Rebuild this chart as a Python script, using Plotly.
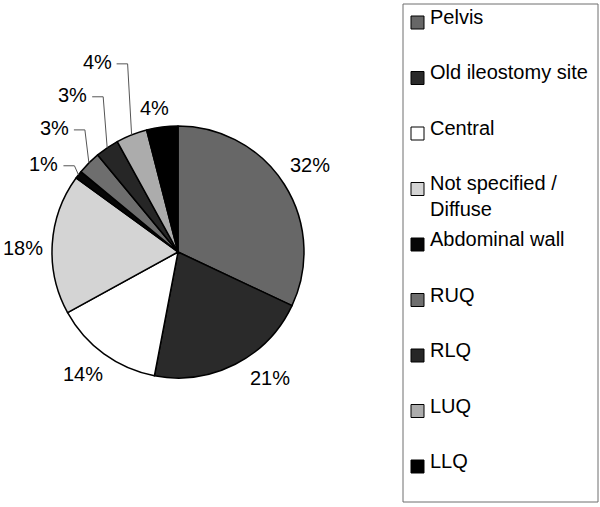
import math
import plotly.graph_objects as go

# ---------------- data ----------------
categories = ["Pelvis", "Old ileostomy site", "Central", "Not specified / Diffuse",
              "Abdominal wall", "RUQ", "RLQ", "LUQ", "LLQ"]
legend_labels = ["Pelvis", "Old ileostomy site", "Central", "Not specified /<br>Diffuse",
                 "Abdominal wall", "RUQ", "RLQ", "LUQ", "LLQ"]
percent_values = [32, 21, 14, 18, 1, 3, 3, 4, 4]

# ---------------- style ----------------
colors = ["#676767", "#2a2a2a", "#ffffff", "#d4d4d4", "#060606",
          "#6e6e6e", "#262626", "#acacac", "#000000"]
FONT = "Arial, Liberation Sans, sans-serif"
W, H = 600, 507
CX, CY, R = 178, 252, 126          # pie centre / radius in page pixels
# label style per slice: ("radial", radius, angle nudge deg) or ("leader", lift px)
label_style = [("radial", 158, -1), ("radial", 156, -9), ("radial", 155, 2),
               ("radial", 155, -2), ("leader", -9), ("leader", -33),
               ("leader", -51), ("leader", -71), ("radial", 146, -2)]


def px(x):
    return x / W


def py(y):
    return 1 - y / H


fig = go.Figure(go.Pie(
    labels=categories, values=percent_values, sort=False,
    direction="clockwise", rotation=0,
    marker=dict(colors=colors, line=dict(color="#000000", width=1.5)),
    textinfo="none", hoverinfo="label+percent", showlegend=False,
    domain=dict(x=[px(CX - R), px(CX + R)], y=[py(CY + R), py(CY - R)]),
))

annotations = []
shapes = []
total = sum(percent_values)
cum = 0.0
for i, v in enumerate(percent_values):
    mid = (cum + v / 2) / total * 360.0
    cum += v
    pct = f"{round(v / total * 100)}%"
    st = label_style[i]
    if st[0] == "radial":
        a = math.radians(mid + st[2])
        lx = CX + st[1] * math.sin(a)
        ly = CY - st[1] * math.cos(a)
        annotations.append(dict(x=px(lx), y=py(ly), xref="paper", yref="paper",
                                text=pct, showarrow=False, xanchor="center",
                                yanchor="middle", font=dict(size=20, color="#000", family=FONT)))
    else:
        a = math.radians(mid)
        ex = CX + R * math.sin(a)
        ey = CY - R * math.cos(a)
        elx = ex - 4
        ely = ey + st[1]
        hx = elx - 11
        shapes.append(dict(type="path", xref="paper", yref="paper",
                           path=f"M {px(hx)},{py(ely)} L {px(elx)},{py(ely)} L {px(ex)},{py(ey)}",
                           line=dict(color="#555555", width=1)))
        annotations.append(dict(x=px(hx - 3), y=py(ely - 1.5), xref="paper", yref="paper",
                                text=pct, showarrow=False, xanchor="right",
                                yanchor="middle", font=dict(size=20, color="#000", family=FONT)))

# ---------------- legend (drawn) ----------------
LX0, LY0, LX1, LY1 = 403, 4, 598, 502
shapes.append(dict(type="rect", xref="paper", yref="paper",
                   x0=px(LX0), x1=px(LX1), y0=py(LY1), y1=py(LY0),
                   line=dict(color="#6f6f6f", width=1), fillcolor="rgba(0,0,0,0)"))
row0, step = 17, 55.5
for i, (lab, col) in enumerate(zip(legend_labels, colors)):
    yc = row0 + step * i
    sq = 13
    sy = yc + 5.5
    shapes.append(dict(type="rect", xref="paper", yref="paper",
                       x0=px(411), x1=px(411 + sq), y0=py(sy + sq / 2), y1=py(sy - sq / 2),
                       line=dict(color="#000000", width=1), fillcolor=col))
    annotations.append(dict(x=px(428), y=py(yc), xref="paper", yref="paper",
                            text=lab, showarrow=False, xanchor="left",
                            yanchor="top" if "<br>" in lab else "middle",
                            yshift=13 if "<br>" in lab else 0,
                            align="left",
                            font=dict(size=20, color="#000", family=FONT)))

fig.update_layout(
    width=W, height=H, margin=dict(l=0, r=0, t=0, b=0),
    paper_bgcolor="#ffffff", plot_bgcolor="#ffffff",
    annotations=annotations, shapes=shapes, showlegend=False,
    font=dict(family=FONT),
)

fig.write_html("out.html", config={"displayModeBar": False},
               post_script="document.body.style.margin='0px';")
